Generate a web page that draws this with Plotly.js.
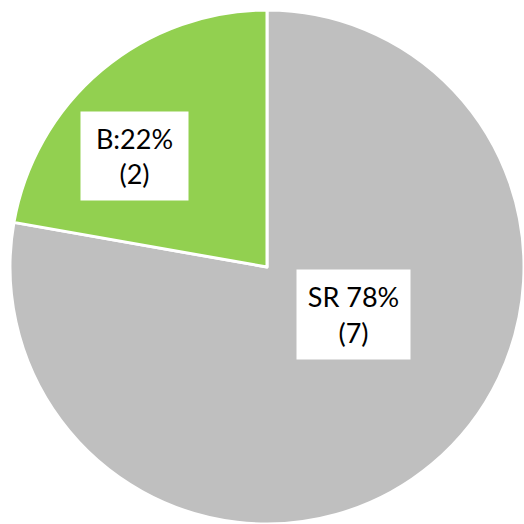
<!DOCTYPE html>
<html><head><meta charset="utf-8">
<script src="https://cdn.plot.ly/plotly-3.0.1.min.js"></script>
<style>html,body{margin:0;padding:0;background:#fff}</style>
</head><body>
<div id="chart" style="width:524px;height:524px"></div>
<script>
var labels = ['SR', 'B'];
var counts = [7, 2];
var sep = [' ', ':'];
var colors = ['#BFBFBF', '#92D050'];

var total = counts.reduce(function(a,b){return a+b;}, 0);
var W = 524, H = 524, mL = 10, mT = 10, mR = 0, mB = 0;
var pw = W - mL - mR, ph = H - mT - mB;
// label box centres / sizes in pixels (layout only)
var boxes = [
  {cx: 353.5, cy: 314.5, w: 111, h: 87},
  {cx: 134.5, cy: 156, w: 105, h: 86}
];
var annotations = labels.map(function(l, i){
  var pct = Math.round(counts[i] / total * 100);
  return {
    xref: 'paper', yref: 'paper',
    x: (boxes[i].cx - mL) / pw, y: 1 - (boxes[i].cy - mT) / ph,
    xanchor: 'center', yanchor: 'middle',
    text: l + sep[i] + pct + '%<br>(' + counts[i] + ')',
    showarrow: false,
    bgcolor: '#ffffff',
    width: boxes[i].w, height: boxes[i].h,
    font: {family: 'Lato, "Noto Sans", sans-serif', size: 27, color: '#000'}
  };
});

Plotly.newPlot('chart', [{
  type: 'pie',
  labels: labels,
  values: counts,
  sort: false,
  direction: 'clockwise',
  rotation: 0,
  textinfo: 'none',
  hoverinfo: 'none',
  marker: {colors: colors, line: {color: '#ffffff', width: 3}},
  domain: {x: [0, 1], y: [0, 1]}
}], {
  width: W, height: H,
  margin: {l: mL, r: mR, t: mT, b: mB, pad: 0},
  showlegend: false,
  paper_bgcolor: '#ffffff',
  annotations: annotations
}, {staticPlot: true, displayModeBar: false});
</script>
</body></html>
